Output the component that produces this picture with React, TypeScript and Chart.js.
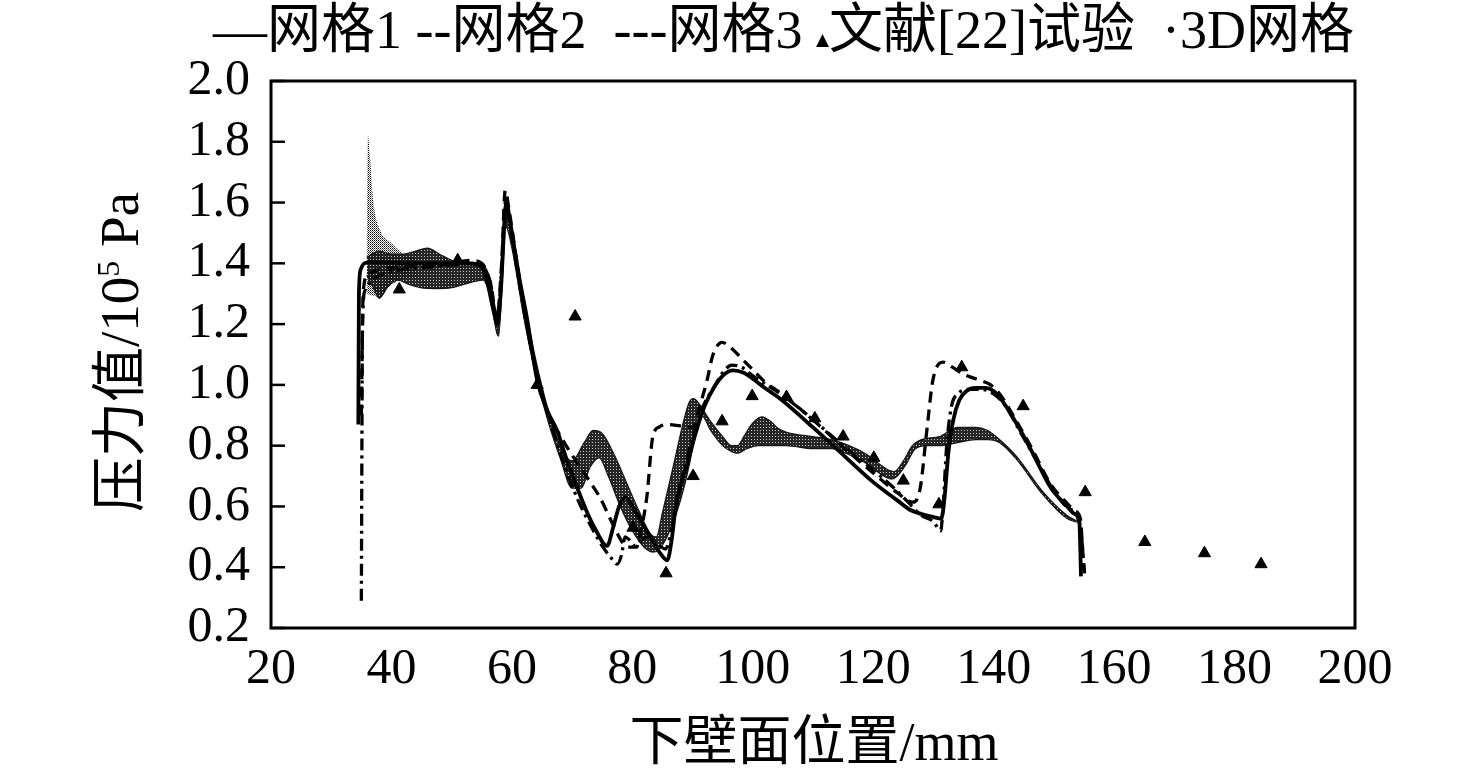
import React, { useEffect, useRef } from "react";
import { Chart, registerables } from "chart.js";

Chart.register(...registerables);

// ---------- axis ticks ----------
const xTickValues = [20, 40, 60, 80, 100, 120, 140, 160, 180, 200];
const yTickValues = [0.2, 0.4, 0.6, 0.8, 1.0, 1.2, 1.4, 1.6, 1.8, 2.0];

// ---------- 网格1 (solid) ----------
const grid1X = [34.5, 34.6, 34.9, 35.5, 37, 42, 48, 53, 55, 56, 57, 57.6, 58.2, 58.8, 59.1, 59.6, 60.5, 61.3, 62.5, 64.2, 66, 67.5, 69, 70.8, 72.5, 74, 75.8, 76.8, 77.8, 78.8, 80, 81.5, 83, 84.5, 85.8, 86.6, 87.2, 88, 89, 90.5, 92, 93.5, 95, 96.7, 98.5, 100, 102, 104.5, 110, 115, 120, 124, 126, 128, 130, 131.3, 131.8, 132.5, 133.3, 134.3, 135.5, 137, 138.6, 140, 141, 143.8, 146.5, 149.4, 152.2, 153.5, 154.2, 154.4, 154.5];
const grid1Y = [0.87, 1.30, 1.38, 1.40, 1.405, 1.40, 1.40, 1.40, 1.39, 1.33, 1.24, 1.20, 1.32, 1.55, 1.60, 1.55, 1.44, 1.345, 1.22, 1.015, 0.91, 0.85, 0.76, 0.664, 0.58, 0.52, 0.47, 0.53, 0.60, 0.63, 0.60, 0.55, 0.50, 0.45, 0.423, 0.50, 0.60, 0.67, 0.73, 0.84, 0.93, 0.99, 1.03, 1.048, 1.04, 1.02, 0.99, 0.955, 0.86, 0.77, 0.68, 0.62, 0.59, 0.575, 0.565, 0.56, 0.62, 0.78, 0.885, 0.95, 0.98, 0.99, 0.99, 0.98, 0.96, 0.873, 0.775, 0.664, 0.60, 0.575, 0.56, 0.45, 0.37];

// ---------- 网格2 (dashed) ----------
const grid2X = [35, 35.3, 36, 38, 45, 50, 53, 55, 56.5, 57.5, 58.3, 58.9, 59.5, 61, 63, 65, 66.5, 67.7, 69, 71.3, 73, 74.6, 76.8, 78.4, 79.3, 80.7, 81.3, 82.4, 83.4, 84.5, 85.7, 88, 90.1, 91.2, 92.4, 93.4, 94.9, 96.5, 98, 100, 102, 104.5, 110, 115, 120, 124, 126.6, 127.8, 128.9, 129.9, 131.6, 133, 135, 137.7, 139.5, 141, 143.8, 146.5, 149.4, 152.2, 153.5, 154.4, 154.8, 155.1];
const grid2Y = [0.9, 1.3, 1.36, 1.38, 1.39, 1.40, 1.41, 1.40, 1.33, 1.22, 1.40, 1.64, 1.58, 1.38, 1.14, 0.97, 0.88, 0.844, 0.80, 0.73, 0.68, 0.63, 0.54, 0.48, 0.466, 0.466, 0.51, 0.63, 0.83, 0.862, 0.87, 0.865, 0.86, 0.93, 1.015, 1.10, 1.14, 1.12, 1.09, 1.05, 1.01, 0.975, 0.885, 0.795, 0.71, 0.645, 0.614, 0.66, 0.85, 1.015, 1.075, 1.06, 1.035, 1.015, 1.0, 0.97, 0.88, 0.785, 0.675, 0.61, 0.585, 0.56, 0.45, 0.38];

// ---------- 网格3 (dash-dot) ----------
const grid3X = [35, 35.2, 35.6, 36.5, 38, 42, 48, 53, 55, 56.5, 57.5, 58.3, 58.9, 59.5, 61, 63, 65, 67, 69, 71, 73, 75, 76.5, 77.5, 78.2, 78.8, 79.5, 80.5, 81.5, 82.5, 84, 85.5, 86.5, 87.5, 89, 90.5, 92, 93.5, 95, 96.5, 98, 100, 105, 110, 115, 120, 124, 126, 128, 130, 131.2, 131.6, 132.2, 133, 134, 136, 138, 140, 142, 144, 146, 148, 150, 152, 154, 154.6, 155];
const grid3Y = [0.29, 1.2, 1.31, 1.34, 1.36, 1.38, 1.39, 1.40, 1.39, 1.33, 1.2, 1.38, 1.6, 1.55, 1.36, 1.14, 0.97, 0.84, 0.72, 0.62, 0.54, 0.47, 0.43, 0.41, 0.44, 0.5, 0.49, 0.47, 0.49, 0.5, 0.48, 0.46, 0.52, 0.62, 0.75, 0.86, 0.94, 0.99, 1.04, 1.065, 1.06, 1.03, 0.965, 0.885, 0.80, 0.72, 0.65, 0.61, 0.57, 0.55, 0.52, 0.6, 0.8, 0.93, 0.97, 0.985, 0.985, 0.97, 0.93, 0.86, 0.79, 0.72, 0.65, 0.6, 0.56, 0.5, 0.39];

// ---------- 3D网格 band (lower / upper envelope) ----------
const mesh3DLowerX = [35.9, 37, 38, 39.3, 41, 43, 44.8, 47.6, 50, 51.9, 55.2, 56.4, 57.5, 57.8, 58.3, 59, 60, 62, 64, 66, 68, 70, 71.5, 73, 74.5, 76, 78, 80, 82, 83.5, 84.5, 86, 88, 89.5, 90.5, 91.5, 93, 95, 96.5, 97.5, 99, 101, 103, 105.5, 110, 113, 116, 119, 121, 123, 124, 125.5, 127, 129, 131, 134, 137, 139, 141, 143.8, 148.2, 152.2, 153.8];
const mesh3DLowerY = [1.36, 1.32, 1.285, 1.32, 1.345, 1.33, 1.32, 1.317, 1.32, 1.33, 1.345, 1.29, 1.17, 1.16, 1.3, 1.52, 1.45, 1.22, 1.03, 0.88, 0.76, 0.66, 0.66, 0.73, 0.76, 0.70, 0.60, 0.52, 0.465, 0.45, 0.46, 0.51, 0.62, 0.74, 0.85, 0.9, 0.85, 0.8, 0.78, 0.775, 0.79, 0.80, 0.80, 0.80, 0.79, 0.79, 0.77, 0.74, 0.71, 0.69, 0.70, 0.74, 0.79, 0.80, 0.80, 0.81, 0.82, 0.82, 0.81, 0.755, 0.638, 0.56, 0.548];
const mesh3DUpperX = [35.9, 38, 40, 42, 44, 46, 48, 50, 52, 55, 56.4, 57.5, 58, 58.7, 59.1, 60, 62, 64, 66, 68, 70, 72, 73.5, 75, 77, 79, 81, 83, 84, 85, 87, 88.5, 89.5, 90.2, 91, 93, 95, 96.5, 97.5, 98.5, 100, 101.5, 103, 104, 105.5, 110, 113, 116, 119, 121, 122.5, 123.5, 125, 126.5, 128, 131, 134, 137, 139, 141, 143.8, 148.2, 152.2, 153.8];
const mesh3DUpperY = [1.42, 1.44, 1.43, 1.43, 1.44, 1.45, 1.43, 1.41, 1.40, 1.40, 1.345, 1.24, 1.25, 1.5, 1.58, 1.5, 1.28, 1.08, 0.92, 0.8, 0.75, 0.81, 0.85, 0.84, 0.77, 0.68, 0.59, 0.51, 0.50, 0.58, 0.75, 0.88, 0.945, 0.955, 0.94, 0.88, 0.83, 0.80, 0.80, 0.83, 0.875, 0.895, 0.88, 0.86, 0.845, 0.83, 0.82, 0.80, 0.77, 0.74, 0.72, 0.715, 0.75, 0.80, 0.82, 0.83, 0.86, 0.86, 0.85, 0.82, 0.765, 0.648, 0.57, 0.552];

// sparse scatter spike of the 3D mesh near the inlet
const meshSpikeLowerX = [35.9, 38, 40, 44];
const meshSpikeLowerY = [1.3, 1.29, 1.33, 1.36];
const meshSpikeUpperX = [35.9, 36.1, 36.4, 37, 38.1, 39.8, 42, 44];
const meshSpikeUpperY = [1.4, 1.82, 1.76, 1.6, 1.51, 1.47, 1.43, 1.42];

// ---------- 文献[22]试验 (triangles) ----------
const expX = [41.3, 51, 64.2, 70.5, 80.1, 85.6, 90.1, 94.9, 99.9, 105.6, 110.3, 115, 120.1, 125, 130.9, 134.7, 144.9, 155.2, 165.1, 175, 184.4];
const expY = [1.314, 1.41, 1.0, 1.225, 0.53, 0.38, 0.70, 0.88, 0.963, 0.96, 0.89, 0.83, 0.76, 0.685, 0.607, 1.058, 0.93, 0.647, 0.483, 0.446, 0.41];

const pts = (xs: number[], ys: number[]) => xs.map((x, i) => ({ x, y: ys[i] }));

const SERIF = '"Liberation Serif", "Times New Roman", "Noto Sans CJK SC", serif';
const CJK = '"Liberation Serif", "Noto Sans CJK SC", serif';

function drawPieces(ctx: CanvasRenderingContext2D, x: number, y: number, pieces: { t: string; f: string; dy?: number }[]) {
  let cx = x;
  for (const p of pieces) {
    ctx.font = p.f;
    ctx.fillText(p.t, cx, y + (p.dy || 0));
    cx += ctx.measureText(p.t).width;
  }
}

const framePlugin = {
  id: "frameAndTexts",
  afterDraw(chart: any) {
    const { ctx, chartArea } = chart;
    const { left, right, top, bottom } = chartArea;
    ctx.save();
    ctx.strokeStyle = "#000";
    ctx.lineWidth = 3;
    ctx.strokeRect(left, top, right - left, bottom - top);
    const ys = chart.scales.y;
    ctx.lineWidth = 2.5;
    for (const v of yTickValues) {
      const py = ys.getPixelForValue(v);
      ctx.beginPath();
      ctx.moveTo(left, py);
      ctx.lineTo(left + 14, py);
      ctx.stroke();
    }
    ctx.fillStyle = "#000";
    ctx.textBaseline = "middle";
    ctx.textAlign = "left";
    // legend line
    drawPieces(ctx, 213, 34, [
      { t: "—网格1 --网格2  ---网格3 ", f: `54px ${CJK}` },
      { t: "▲", f: `17px "DejaVu Sans", sans-serif`, dy: 7 },
      { t: "文献[22]试验  ·3D网格", f: `54px ${CJK}` },
    ]);
    // x title
    ctx.font = `54px ${CJK}`;
    ctx.textAlign = "center";
    ctx.fillText("下壁面位置/mm", 814, 746);
    // y title (rotated)
    ctx.translate(124, 352);
    ctx.rotate(-Math.PI / 2);
    ctx.textAlign = "left";
    const main1 = "压力值/10";
    const sup = "5";
    const main2 = " Pa";
    ctx.font = `55px ${CJK}`;
    const w1 = ctx.measureText(main1).width;
    const w3 = ctx.measureText(main2).width;
    ctx.font = `32px ${SERIF}`;
    const w2 = ctx.measureText(sup).width;
    const total = w1 + w2 + w3;
    let sx = -total / 2;
    ctx.font = `55px ${CJK}`;
    ctx.fillText(main1, sx, 0);
    sx += w1;
    ctx.font = `32px ${SERIF}`;
    ctx.fillText(sup, sx, -13);
    sx += w2;
    ctx.font = `55px ${CJK}`;
    ctx.fillText(main2, sx, 0);
    ctx.restore();
  },
};

export default function App() {
  const ref = useRef<HTMLCanvasElement | null>(null);
  useEffect(() => {
    if (!ref.current) return;
    const mainCtx = ref.current.getContext("2d")!;
    // dot stipple for the spike
    const pc = document.createElement("canvas");
    pc.width = 2;
    pc.height = 2;
    const pctx = pc.getContext("2d")!;
    pctx.fillStyle = "#000";
    pctx.fillRect(0, 0, 1, 1);
    pctx.fillStyle = "rgba(0,0,0,0.6)";
    pctx.fillRect(1, 1, 1, 1);
    const dotPattern = mainCtx.createPattern(pc, "repeat");
    // dense mesh texture for the band
    const mc = document.createElement("canvas");
    mc.width = 3;
    mc.height = 3;
    const mctx = mc.getContext("2d")!;
    mctx.fillStyle = "rgba(20,20,20,0.92)";
    mctx.fillRect(0, 0, 3, 3);
    mctx.fillStyle = "rgba(255,255,255,0.75)";
    mctx.fillRect(1, 1, 1, 1);
    const meshPattern = mainCtx.createPattern(mc, "repeat");

    const lineBase = {
      showLine: true,
      pointRadius: 0,
      borderColor: "#000",
      backgroundColor: "#000",
      cubicInterpolationMode: "monotone" as const,
      fill: false,
    };
    const chart = new Chart(ref.current, {
      type: "line",
      data: {
        datasets: [
          {
            label: "文献[22]试验",
            data: pts(expX, expY),
            showLine: false,
            pointStyle: "triangle",
            pointRadius: 7,
            borderWidth: 1,
            borderColor: "#000",
            backgroundColor: "#000",
          },
          { ...lineBase, label: "网格1", data: pts(grid1X, grid1Y), borderWidth: 3.8 },
          { ...lineBase, label: "网格2", data: pts(grid2X, grid2Y), borderWidth: 3.3, borderDash: [11, 7] },
          { ...lineBase, label: "网格3", data: pts(grid3X, grid3Y), borderWidth: 3.3, borderDash: [12, 5, 3, 5] },
          { ...lineBase, label: "3D网格-下", data: pts(mesh3DLowerX, mesh3DLowerY), borderWidth: 1.2, borderColor: "rgba(15,15,15,0.95)" },
          {
            ...lineBase,
            label: "3D网格",
            data: pts(mesh3DUpperX, mesh3DUpperY),
            borderWidth: 1.2,
            borderColor: "rgba(15,15,15,0.95)",
            fill: "-1",
            backgroundColor: meshPattern as any,
          },
          { ...lineBase, label: "spike-下", data: pts(meshSpikeLowerX, meshSpikeLowerY), borderWidth: 0, borderColor: "rgba(0,0,0,0)" },
          {
            ...lineBase,
            label: "spike",
            data: pts(meshSpikeUpperX, meshSpikeUpperY),
            borderWidth: 0,
            borderColor: "rgba(0,0,0,0)",
            fill: "-1",
            backgroundColor: dotPattern as any,
          },
        ],
      },
      options: {
        animation: false,
        responsive: false,
        devicePixelRatio: 1,
        layout: { padding: { top: 81, right: 121, left: 0, bottom: 0 } },
        plugins: { legend: { display: false }, title: { display: false }, tooltip: { enabled: false } },
        scales: {
          x: {
            type: "linear",
            min: 20,
            max: 200,
            afterFit: (s: any) => {
              s.height = 154;
            },
            afterBuildTicks: (s: any) => {
              s.ticks = xTickValues.map((v) => ({ value: v }));
            },
            grid: { display: false, drawTicks: false },
            border: { display: false },
            ticks: {
              padding: 12,
              color: "#000",
              font: { family: SERIF, size: 50 },
              maxRotation: 0,
              autoSkip: false,
              callback: (v: any) => String(v),
            },
          },
          y: {
            type: "linear",
            min: 0.2,
            max: 2.0,
            afterFit: (s: any) => {
              s.width = 271;
            },
            afterBuildTicks: (s: any) => {
              s.ticks = yTickValues.map((v) => ({ value: v }));
            },
            grid: { display: false, drawTicks: false },
            border: { display: false },
            ticks: {
              padding: 21,
              color: "#000",
              font: { family: SERIF, size: 50 },
              autoSkip: false,
              callback: (v: any) => Number(v).toFixed(1),
            },
          },
        },
      },
      plugins: [framePlugin],
    });
    return () => chart.destroy();
  }, []);
  return (
    <div style={{ position: "absolute", left: 0, top: 0, width: 1476, height: 782, background: "#fff" }}>
      <canvas ref={ref} width={1476} height={782} style={{ width: 1476, height: 782, display: "block" }} />
    </div>
  );
}
